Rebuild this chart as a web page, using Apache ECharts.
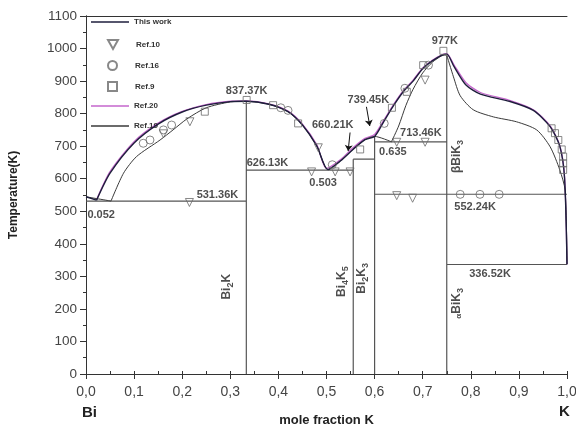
<!DOCTYPE html>
<html>
<head>
<meta charset="utf-8">
<script src="https://cdn.jsdelivr.net/npm/echarts@6/dist/echarts.min.js"></script>
<style>
  html, body { margin: 0; padding: 0; background: #fff; }
  #chart { width: 576px; height: 428px; }
</style>
</head>
<body>
<div id="chart"></div>
<script>
// Bi-K phase diagram

// liquidus, this work
var thisWork = [
  [0, 544.5], [0.022, 534], null,
  [0.022, 534], [0.05, 617], [0.1, 710], [0.15, 768], [0.2, 805], [0.25, 826], [0.3, 837],
  [0.333, 838], [0.38, 829], [0.42, 806], [0.45, 765], [0.48, 700], [0.503, 628],
  [0.53, 656], [0.555, 690], [0.58, 720], [0.6, 730], [0.62, 778], [0.64, 826],
  [0.66, 868], [0.68, 900], [0.7, 938], [0.72, 962], [0.74, 980], [0.75, 983],
  [0.765, 945], [0.79, 888], [0.82, 860], [0.88, 838], [0.93, 810], [0.965, 760],
  [0.985, 700], [0.995, 600], [1.0, 337]
];

// liquidus, Ref.20
var ref20 = [
  [0.022, 536], [0.05, 622], [0.1, 714], [0.15, 771], [0.2, 807], [0.25, 828], [0.3, 838],
  [0.333, 839], [0.38, 830], [0.42, 808], [0.45, 768], [0.48, 704], [0.5, 632],
  [0.53, 660], [0.555, 695], [0.58, 724], [0.6, 736], [0.62, 782], [0.64, 829],
  [0.66, 871], [0.68, 903], [0.7, 940], [0.72, 964], [0.74, 981], [0.75, 984],
  [0.765, 950], [0.79, 895], [0.82, 865], [0.88, 841], [0.93, 812], [0.965, 762],
  [0.985, 702], [0.995, 605], [1.0, 337]
];

// liquidus, Ref.19
var ref19 = [
  [0, 544.5], [0.052, 531.36], null,
  [0.052, 531.36], [0.078, 617], [0.105, 668], [0.154, 719], [0.181, 750],
  [0.21, 784], [0.25, 818], [0.3, 836], [0.333, 838], [0.38, 829], [0.42, 806],
  [0.45, 765], [0.48, 700], [0.503, 628], [0.53, 656], [0.555, 690], [0.58, 720],
  [0.6, 730], [0.635, 713.46], null,
  [0.635, 713.46], [0.65, 762], [0.665, 825], [0.68, 875],
  [0.7, 925], [0.72, 958], [0.74, 978], [0.75, 980], null,
  [0.75, 980], [0.764, 913], [0.778, 855],
  [0.805, 812], [0.847, 790], [0.895, 775], [0.937, 750], [0.965, 698], [0.985, 627],
  [0.996, 565], [1.0, 337]
];

// compounds and invariant lines
var phaseLines = [
  [0.3333, 0], [0.3333, 837.37], null,
  [0.5556, 0], [0.5556, 660.21], null,
  [0.6, 0], [0.6, 729], null,
  [0.75, 0], [0.75, 977], null,
  [0, 531.36], [0.3333, 531.36], null,
  [0.3333, 626.13], [0.5556, 626.13], null,
  [0.5556, 660.21], [0.6, 660.21], null,
  [0.6, 713.46], [0.75, 713.46], null,
  [0.6, 552.24], [1, 552.24], null,
  [0.75, 336.52], [1, 336.52]
];

// experimental points
var ref10 = [
  [0.215, 527], [0.216, 775], [0.161, 738], [0.483, 695], [0.469, 621], [0.518, 621],
  [0.549, 621], [0.646, 712], [0.705, 712], [0.646, 548], [0.679, 540], [0.705, 903]
];
var ref16 = [
  [0.119, 709], [0.133, 719], [0.161, 750], [0.178, 765], [0.405, 818], [0.42, 810],
  [0.512, 643], [0.62, 770], [0.663, 878], [0.712, 949], [0.778, 552], [0.819, 552],
  [0.859, 552]
];
var ref9 = [
  [0.247, 806], [0.334, 842], [0.389, 826], [0.441, 770], [0.57, 690], [0.636, 818],
  [0.667, 867], [0.701, 949], [0.743, 993], [0.968, 755], [0.975, 740], [0.982, 719],
  [0.989, 690], [0.992, 668], [0.992, 647], [0.992, 627]
];

// legend rows: [series, top]
var legendRows = [
  ['This work', 18], ['Ref.10', 39], ['Ref.16', 60], ['Ref.9', 81], ['Ref.20', 102], ['Ref.19', 122]
];

// annotations: [x, T, text, align, rotate]
var notes = [
  [0.334, 870, '837.37K', 'center', 0],
  [0.334, 647, '626.13K', 'left', 0],
  [0.230, 550, '531.36K', 'left', 0],
  [0.003, 489, '0.052', 'left', 0],
  [0.493, 588, '0.503', 'center', 0],
  [0.513, 765, '660.21K', 'center', 0],
  [0.587, 842, '739.45K', 'center', 0],
  [0.653, 741, '713.46K', 'left', 0],
  [0.638, 683, '0.635', 'center', 0],
  [0.746, 1024, '977K', 'center', 0],
  [0.809, 514, '552.24K', 'center', 0],
  [0.840, 307, '336.52K', 'center', 0],
  [0.771, 668, '{t|\u03b2BiK}{s|3}', 'center', 90],
  [0.771, 217, '{a|\u03b1}{t|BiK}{s|3}', 'center', 90],
  [0.2925, 268, '{t|Bi}{s|2}{t|K}', 'center', 90],
  [0.532, 284, '{t|Bi}{s|4}{t|K}{s|5}', 'center', 90],
  [0.573, 294, '{t|Bi}{s|2}{t|K}{s|3}', 'center', 90]
];

var arrows = [
  [[0.583, 821], [0.59, 762]],
  [[0.549, 742], [0.545, 685]]
];

var FONT = '"Liberation Sans", Arial, sans-serif';
var markerStyle = { color: 'rgba(255,255,255,0)', borderColor: '#6a6a6a', borderWidth: 1 };
var lineColors = { 'This work': '#1e1e3c', 'Ref.20': '#c466cc', 'Ref.19': '#3a3a3a' };
var DOWN_TRIANGLE = 'path://M0,0L10,0L5,9Z';

var chart = echarts.init(document.getElementById('chart'));

var legends = legendRows.map(function (r) {
  var isLine = !!lineColors[r[0]];
  var l = {
    orient: 'vertical',
    top: r[1],
    padding: 0,
    selectedMode: false,
    textStyle: { fontSize: 8, fontWeight: 'bold', color: '#333', fontFamily: FONT },
    data: [r[0]]
  };
  if (isLine) {
    l.left = 91;
    l.itemWidth = 38;
    l.itemHeight = 1.5;
    l.icon = 'rect';
  } else {
    l.left = 107;
    l.itemWidth = 9;
    l.itemHeight = 9;
    l.textStyle.padding = [0, 0, 0, 13];
    if (r[0] === 'Ref.10') {
      l.data = [{ name: r[0], icon: DOWN_TRIANGLE }];
      l.itemWidth = 10;
    }
  }
  return l;
});

var option = {
  backgroundColor: '#fff',
  animation: false,
  textStyle: { fontFamily: FONT },
  grid: { left: 86, right: 9, top: 16, bottom: 54, outerBoundsMode: 'none' },
  legend: legends,
  xAxis: [
    {
      type: 'value', min: 0, max: 1, interval: 0.1,
      name: 'mole fraction K', nameLocation: 'middle', nameGap: 40,
      nameTextStyle: { fontSize: 13, fontWeight: 'bold', color: '#222' },
      axisLine: { lineStyle: { color: '#333', width: 1 } },
      axisTick: { length: 5, lineStyle: { color: '#333' } },
      axisLabel: {
        fontSize: 14, color: '#444', margin: 11,
        formatter: function (v) { return v.toFixed(1).replace('.', ','); }
      },
      splitLine: { show: false }
    },
    {
      type: 'value', min: 0, max: 1, interval: 0.05, position: 'bottom',
      axisLine: { show: false },
      axisTick: { inside: true, length: 3, lineStyle: { color: '#333' } },
      axisLabel: { show: false },
      splitLine: { show: false }
    },
    {
      type: 'value', min: 0, max: 1, position: 'top',
      axisLine: { lineStyle: { color: '#333' } },
      axisTick: { show: false }, axisLabel: { show: false }, splitLine: { show: false }
    }
  ],
  yAxis: [
    {
      type: 'value', min: 0, max: 1100, interval: 100,
      name: 'Temperature(K)', nameLocation: 'middle', nameGap: 66,
      nameTextStyle: { fontSize: 12, fontWeight: 'bold', color: '#222' },
      axisLine: { show: true, lineStyle: { color: '#333', width: 1 } },
      axisTick: { show: true, length: 6, lineStyle: { color: '#333' } },
      minorTick: { show: true, splitNumber: 2, length: 3, lineStyle: { color: '#333' } },
      axisLabel: { fontSize: 13.5, color: '#444', margin: 9, formatter: function (v) { return String(v); } },
      splitLine: { show: false }
    },
    {
      type: 'value', min: 0, max: 1100, position: 'right',
      axisLine: { show: true, lineStyle: { color: '#333' } },
      axisTick: { show: false }, axisLabel: { show: false }, splitLine: { show: false }
    }
  ],
  graphic: [
    { type: 'text', left: 82, top: 405, style: { text: 'Bi', font: 'bold 15px ' + FONT, fill: '#222' } },
    { type: 'text', left: 559, top: 404, style: { text: 'K', font: 'bold 15px ' + FONT, fill: '#222' } }
  ],
  series: [
    {
      name: 'phase', type: 'line', data: phaseLines, symbol: 'none', silent: true,
      lineStyle: { color: '#555', width: 1.2 }, connectNulls: false, z: 2,
      markLine: {
        silent: true, symbol: ['none', 'arrow'], symbolSize: 6,
        label: { show: false },
        lineStyle: { color: '#111', width: 1, type: 'solid' },
        data: arrows.map(function (a) { return [{ coord: a[0] }, { coord: a[1] }]; })
      }
    },
    {
      name: 'Ref.20', type: 'line', data: ref20, symbol: 'none', smooth: 0.25,
      lineStyle: { color: lineColors['Ref.20'], width: 1.3 }, itemStyle: { color: lineColors['Ref.20'] }, z: 3
    },
    {
      name: 'Ref.19', type: 'line', data: ref19, symbol: 'none', smooth: 0.25, connectNulls: false,
      lineStyle: { color: lineColors['Ref.19'], width: 1 }, itemStyle: { color: lineColors['Ref.19'] }, z: 3
    },
    {
      name: 'This work', type: 'line', data: thisWork, symbol: 'none', smooth: 0.25, connectNulls: false,
      lineStyle: { color: lineColors['This work'], width: 1.4 }, itemStyle: { color: lineColors['This work'] }, z: 4
    },
    {
      name: 'Ref.10', type: 'scatter', data: ref10, symbol: 'triangle', symbolRotate: 180,
      symbolSize: 8, itemStyle: markerStyle, z: 5
    },
    {
      name: 'Ref.16', type: 'scatter', data: ref16, symbol: 'circle',
      symbolSize: 8, itemStyle: markerStyle, z: 5
    },
    {
      name: 'Ref.9', type: 'scatter', data: ref9, symbol: 'rect',
      symbolSize: 7, itemStyle: markerStyle, z: 5
    },
    {
      name: 'notes', type: 'scatter', symbolSize: 0, silent: true, clip: false, z: 6,
      data: notes.map(function (n) {
        return {
          value: [n[0], n[1]],
          label: {
            show: true, position: 'inside', formatter: n[2],
            align: n[3], rotate: n[4],
            fontSize: n[4] ? 12 : 11, fontWeight: 'bold', color: '#222',
            rich: {
              t: { fontSize: 12, fontWeight: 'bold', color: '#222' },
              a: { fontSize: 8, fontWeight: 'bold', color: '#222', padding: [3, 0, 0, 0] },
              s: { fontSize: 9, fontWeight: 'bold', color: '#222', padding: [7, 0, 0, 0] }
            }
          }
        };
      })
    }
  ]
};

chart.setOption(option);
</script>
</body>
</html>
